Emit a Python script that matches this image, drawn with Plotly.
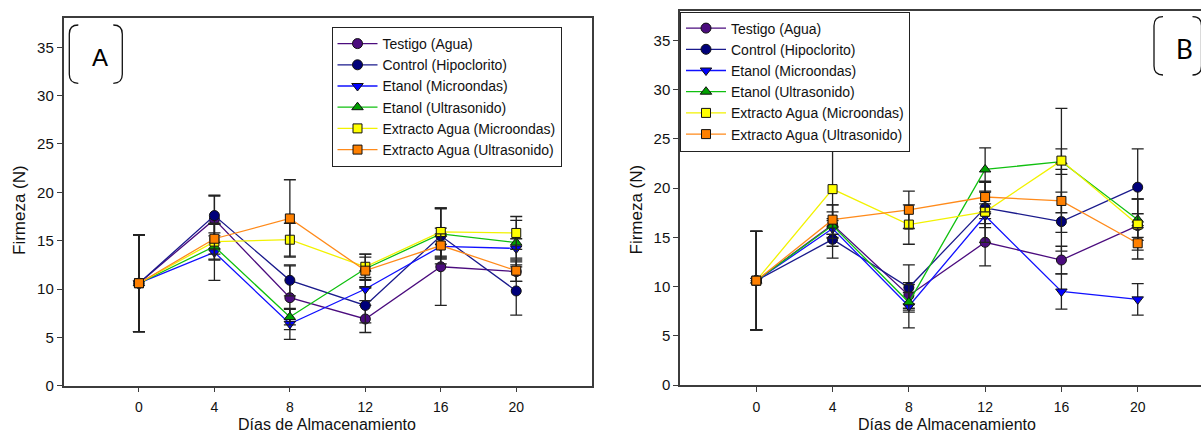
import plotly.graph_objects as go

# Storage days
days = [0, 4, 8, 12, 16, 20]

series_names = [
    "Testigo (Agua)",
    "Control (Hipoclorito)",
    "Etanol (Microondas)",
    "Etanol (Ultrasonido)",
    "Extracto Agua (Microondas)",
    "Extracto Agua (Ultrasonido)",
]

# Panel A: firmness (N) and standard deviation
a_testigo = [10.6, 17.2, 9.1, 6.9, 12.3, 11.8]
a_control = [10.6, 17.6, 10.9, 8.3, 15.5, 9.8]
a_etanol_mw = [10.6, 13.8, 6.4, 10.0, 14.4, 14.2]
a_etanol_us = [10.6, 14.4, 7.1, 12.1, 15.7, 14.8]
a_extracto_mw = [10.6, 14.9, 15.1, 12.3, 15.9, 15.8]
a_extracto_us = [10.6, 15.2, 17.3, 11.9, 14.5, 11.9]

a_testigo_sd = [5.0, 2.4, 3.3, 1.4, 4.0, 1.0]
a_control_sd = [5.0, 2.1, 1.6, 1.8, 2.9, 2.5]
a_etanol_mw_sd = [5.0, 2.9, 1.6, 1.2, 1.2, 1.0]
a_etanol_us_sd = [5.0, 1.4, 0.8, 1.2, 2.6, 2.3]
a_extracto_mw_sd = [5.0, 1.8, 1.7, 1.3, 2.5, 1.7]
a_extracto_us_sd = [5.0, 1.6, 4.0, 1.7, 1.2, 1.1]

# Panel B: firmness (N) and standard deviation
b_testigo = [10.6, 16.3, 9.1, 14.5, 12.7, 16.2]
b_control = [10.6, 14.8, 9.9, 18.0, 16.6, 20.1]
b_etanol_mw = [10.6, 15.9, 8.0, 17.2, 9.5, 8.7]
b_etanol_us = [10.6, 16.2, 8.4, 21.9, 22.7, 16.8]
b_extracto_mw = [10.6, 19.9, 16.3, 17.6, 22.8, 16.3]
b_extracto_us = [10.6, 16.8, 17.8, 19.1, 18.7, 14.4]

b_testigo_sd = [5.0, 1.3, 1.3, 2.4, 1.4, 1.2]
b_control_sd = [5.0, 1.9, 2.3, 1.6, 3.0, 3.9]
b_etanol_mw_sd = [5.0, 1.0, 2.2, 1.2, 1.8, 1.6]
b_etanol_us_sd = [5.0, 2.1, 1.0, 2.2, 1.3, 2.1]
b_extracto_mw_sd = [5.0, 4.6, 2.0, 3.1, 5.3, 2.6]
b_extracto_us_sd = [5.0, 1.5, 1.9, 1.5, 3.2, 1.6]

y_ticks = [0, 5, 10, 15, 20, 25, 30, 35]
x_ticks = [0, 4, 8, 12, 16, 20]

marker_colors = ["#4B0C7E", "#00007A", "#0000FF", "#00A000", "#FFFF00", "#FF8000"]
line_colors = ["#4B0C7E", "#1A1A8C", "#1010FF", "#10C010", "#F2F200", "#FF8A1A"]
symbols = ["circle", "circle", "triangle-down", "triangle-up", "square", "square"]
sizes = [10, 10, 10, 10, 9, 9]

panel_a = [a_testigo, a_control, a_etanol_mw, a_etanol_us, a_extracto_mw, a_extracto_us]
panel_a_sd = [a_testigo_sd, a_control_sd, a_etanol_mw_sd, a_etanol_us_sd,
              a_extracto_mw_sd, a_extracto_us_sd]
panel_b = [b_testigo, b_control, b_etanol_mw, b_etanol_us, b_extracto_mw, b_extracto_us]
panel_b_sd = [b_testigo_sd, b_control_sd, b_etanol_mw_sd, b_etanol_us_sd,
              b_extracto_mw_sd, b_extracto_us_sd]

W, H = 1201, 435
FONT = "Liberation Sans, Arial, sans-serif"


def px(x):
    return x / W


def py(y):
    return (H - y) / H


fig = go.Figure()

for panel, sds, xa, ya, lg in [(panel_a, panel_a_sd, "x", "y", "legend"),
                               (panel_b, panel_b_sd, "x2", "y2", "legend2")]:
    for i, name in enumerate(series_names):
        fig.add_trace(go.Scatter(
            x=days, y=panel[i], name=name, mode="lines+markers",
            xaxis=xa, yaxis=ya, legend=lg,
            line=dict(color=line_colors[i], width=1.3),
            marker=dict(symbol=symbols[i], size=sizes[i], color=marker_colors[i],
                        line=dict(color="#111111", width=1)),
            error_y=dict(type="data", array=sds[i], visible=True,
                         color="#222222", thickness=1.3, width=6),
        ))

axis_common = dict(
    showline=True, linecolor="#3c3c3c", linewidth=1.5,
    ticks="outside", ticklen=5, tickwidth=1.3, tickcolor="#3c3c3c",
    showgrid=False, zeroline=False, automargin=False,
    tickfont=dict(family=FONT, size=15, color="#111111"),
)
x_tickfont = dict(family=FONT, size=14, color="#111111")

legend_common = dict(
    xanchor="left", yanchor="top",
    bgcolor="white", bordercolor="#222222", borderwidth=1,
    font=dict(family=FONT, size=14, color="#111111"),
    itemwidth=40, tracegroupgap=0,
)

fig.update_layout(
    width=W, height=H,
    margin=dict(l=0, r=0, t=0, b=0, autoexpand=False),
    paper_bgcolor="white", plot_bgcolor="white",
    showlegend=True,
    xaxis=dict(axis_common, domain=[px(63.5), px(591.7)], range=[-4, 24],
               tickvals=x_ticks, mirror=True, anchor="y", ticklabelstandoff=3,
               tickfont=x_tickfont),
    yaxis=dict(axis_common, domain=[py(385.7), py(18.3)], range=[0, 38],
               tickvals=y_ticks, mirror=True, anchor="x"),
    yaxis3=dict(overlaying="y", anchor="x", side="right", range=[0, 38],
                tickmode="linear", tick0=0, dtick=1, ticks="outside", ticklen=2,
                tickcolor="#555555", showticklabels=False, showgrid=False,
                zeroline=False, showline=False),
    xaxis2=dict(axis_common, domain=[px(680.0), 1.0], range=[-4, (W - 756.3) / 19.07],
                tickvals=x_ticks, mirror=True, anchor="y2", ticklabelstandoff=3,
                tickfont=x_tickfont),
    yaxis2=dict(axis_common, domain=[py(385.0), py(11.0)], range=[0, 38],
                tickvals=y_ticks, mirror=False, anchor="x2"),
    legend=dict(legend_common, x=px(331.5), y=py(27)),
    legend2=dict(legend_common, x=px(680.0), y=py(11.5)),
)

# Axis titles
fig.add_annotation(text="Firmeza (N)", x=px(20), y=py(210), textangle=-90,
                   xanchor="center", yanchor="middle",
                   font=dict(family=FONT, size=17, color="#111111"))
fig.add_annotation(text="Firmeza (N)", x=px(636.5), y=py(210), textangle=-90,
                   xanchor="center", yanchor="middle",
                   font=dict(family=FONT, size=17, color="#111111"))
fig.add_annotation(text="Días de Almacenamiento", x=px(327), y=py(435),
                   xanchor="center", yanchor="bottom",
                   font=dict(family=FONT, size=16, color="#111111"))
fig.add_annotation(text="Días de Almacenamiento", x=px(946.5), y=py(435),
                   xanchor="center", yanchor="bottom",
                   font=dict(family=FONT, size=16, color="#111111"))
fig.update_annotations(xref="paper", yref="paper", showarrow=False)

# Panel letters
fig.add_annotation(text="A", xref="paper", yref="paper", x=px(100), y=py(58),
                   xanchor="center", yanchor="middle", showarrow=False,
                   font=dict(family=FONT, size=24, color="#000000"))
fig.add_annotation(text="B", xref="paper", yref="paper", x=px(1184), y=py(49),
                   xanchor="center", yanchor="middle", showarrow=False,
                   font=dict(family="Lato, sans-serif", size=26, color="#000000"))


def bracket(x, top, bottom, r, side):
    # side=-1 opens to the right (left bracket), side=+1 opens to the left
    xe = x - side * r
    return (f"M {px(xe)} {py(top)} Q {px(x)} {py(top)} {px(x)} {py(top + r)} "
            f"L {px(x)} {py(bottom - r)} Q {px(x)} {py(bottom)} {px(xe)} {py(bottom)}")


for x, top, bottom, side in [(69.3, 25, 83.3, -1), (122.3, 25, 83.3, 1),
                             (1154, 16.7, 75, -1), (1201.5, 16.7, 75, 1)]:
    fig.add_shape(type="path", xref="paper", yref="paper",
                  path=bracket(x, top, bottom, 9, side),
                  line=dict(color="#111111", width=1.3))

fig.write_html("out.html")
